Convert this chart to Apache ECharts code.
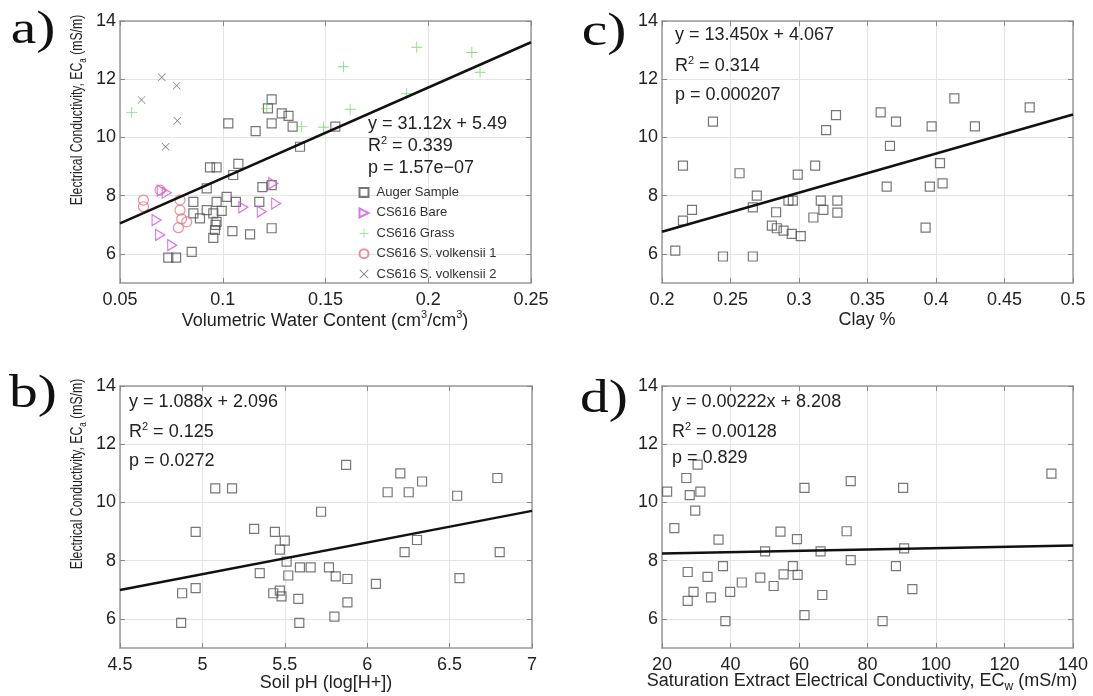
<!DOCTYPE html>
<html>
<head>
<meta charset="utf-8">
<title>EC regressions</title>
<script src="https://cdn.jsdelivr.net/npm/echarts@6/dist/echarts.min.js"></script>
<style>
html, body { margin: 0; padding: 0; background: #fff; }
#main { width: 1093px; height: 696px; }
</style>
</head>
<body>
<div id="main"></div>
<script>
// ---- tick values ----
var yTicks = [6, 8, 10, 12, 14];
var xTicksA = [0.05, 0.1, 0.15, 0.2, 0.25];
var xTicksB = [4.5, 5, 5.5, 6, 6.5, 7];
var xTicksC = [0.2, 0.25, 0.3, 0.35, 0.4, 0.45, 0.5];
var xTicksD = [20, 40, 60, 80, 100, 120, 140];

// ---- a) volumetric water content vs ECa ----
var augerA = [[0.1027,10.48],[0.116,10.22],[0.1238,11.31],[0.122,11.0],[0.1238,10.48],[0.1287,10.83],
	[0.132,10.74],[0.134,10.37],[0.1376,9.68],[0.1548,10.37],[0.0938,8.97],[0.097,8.97],[0.1076,9.09],
	[0.1051,8.71],[0.0922,8.25],[0.1193,8.29],[0.1238,8.36],[0.0857,7.79],[0.097,7.79],[0.1019,7.96],
	[0.1064,7.79],[0.1178,7.79],[0.0857,7.39],[0.0889,7.22],[0.0922,7.5],[0.0954,7.39],[0.0995,7.48],
	[0.097,7.1],[0.0965,7.0],[0.0962,6.82],[0.0954,6.55],[0.1047,6.78],[0.1133,6.67],[0.1238,6.88],
	[0.0849,6.07],[0.0735,5.87],[0.0773,5.87]];
var bareA = [[0.0703,8.17],[0.0727,8.1],[0.0678,7.16],[0.0695,6.65],[0.0754,6.3],[0.110,7.6],
	[0.119,7.45],[0.1246,8.42],[0.126,7.73]];
var grassA = [[0.0557,10.86],[0.1214,11.0],[0.1384,10.37],[0.149,10.35],[0.162,10.97],[0.1587,12.43],
	[0.1895,11.5],[0.1944,13.1],[0.2212,12.92],[0.2252,12.24]];
var volk1A = [[0.0614,7.85],[0.0614,7.62],[0.0695,8.19],[0.0792,7.85],[0.0792,7.5],[0.080,7.2],
	[0.0825,7.1],[0.0784,6.9]];
var volk2A = [[0.0703,12.07],[0.0776,11.78],[0.0605,11.29],[0.0779,10.57],[0.0722,9.68]];
var fitA = [[0.05, 7.05], [0.25, 13.27]];

// ---- b) soil pH vs ECa ----
var augerB = [[4.871,5.86],[4.877,6.88],[4.959,7.06],[4.959,8.99],[5.078,10.48],[5.18,10.48],
	[5.314,9.09],[5.348,7.57],[5.44,8.99],[5.47,8.38],[5.50,8.69],[5.511,7.97],[5.521,7.49],[5.43,6.88],
	[5.47,6.97],[5.48,6.77],[5.588,5.86],[5.582,6.69],[5.592,7.77],[5.657,7.77],[5.72,9.68],[5.768,7.77],
	[5.809,7.46],[5.801,6.08],[5.872,11.29],[5.88,7.37],[5.88,6.57],[6.053,7.2],[6.124,10.35],[6.201,11.0],
	[6.227,8.29],[6.252,10.35],[6.302,8.71],[6.333,10.72],[6.546,10.23],[6.56,7.4],[6.79,10.84],[6.804,8.29]];
var fitB = [[4.5, 6.99], [7, 9.71]];

// ---- c) clay vs ECa ----
var augerC = [[0.2097,6.11],[0.2153,7.14],[0.2153,9.03],[0.2219,7.51],[0.2372,10.54],[0.2445,5.91],
	[0.2566,8.77],[0.2663,5.91],[0.2663,7.6],[0.2692,8.0],[0.2833,7.43],[0.2802,6.97],[0.2838,6.88],
	[0.2887,6.8],[0.2947,6.69],[0.3013,6.61],[0.2923,7.83],[0.2955,7.83],[0.2991,8.72],[0.3105,7.25],
	[0.3118,9.03],[0.3159,7.83],[0.3178,7.51],[0.3198,10.25],[0.327,10.77],[0.328,7.83],[0.328,7.42],
	[0.3596,10.86],[0.3708,10.54],[0.3664,9.71],[0.364,8.31],[0.3924,6.9],[0.3955,8.31],[0.3968,10.38],
	[0.4029,9.12],[0.4048,8.42],[0.4134,11.34],[0.4284,10.38],[0.4684,11.03]];
var fitC = [[0.2, 6.76], [0.5, 10.79]];

// ---- d) saturation extract ECw vs ECa ----
var augerD = [[21.5,10.37],[23.6,9.12],[27.1,10.84],[28.1,10.25],[30.4,11.3],[31.2,10.37],[29.7,9.72],
	[27.5,7.61],[27.5,6.62],[29.2,6.93],[33.3,7.44],[34.3,6.74],[36.5,8.72],[37.8,7.81],[38.5,5.92],
	[39.9,6.93],[43.3,7.25],[48.7,7.42],[50.1,8.32],[52.6,7.13],[54.6,9.0],[55.5,7.53],[58.2,7.81],
	[59.4,8.74],[59.6,7.51],[61.6,10.5],[61.6,6.13],[66.3,8.32],[66.8,6.82],[73.9,9.01],[75.1,10.73],
	[75.1,8.02],[84.4,5.92],[88.3,7.81],[90.4,10.5],[90.7,8.42],[93.1,7.02],[133.7,10.99]];
var fitD = [[20, 8.25], [140, 8.52]];

var statsA = ['y = 31.12x + 5.49', 'R{sup|2} = 0.339', 'p = 1.57e\u221207'];
var statsB = ['y = 1.088x + 2.096', 'R{sup|2} = 0.125', 'p = 0.0272'];
var statsC = ['y = 13.450x + 4.067', 'R{sup|2} = 0.314', 'p = 0.000207'];
var statsD = ['y = 0.00222x + 8.208', 'R{sup|2} = 0.00128', 'p = 0.829'];

var FONT = '"Liberation Sans", Arial, sans-serif';
var myChart = echarts.init(document.getElementById('main'));

var grids = [
	{left: 120, top: 21, width: 411, height: 262},   // a
	{left: 662, top: 21, width: 411, height: 262},   // c
	{left: 120, top: 386, width: 412, height: 262},  // b
	{left: 662, top: 386, width: 411, height: 262}   // d
];

var frameLine = {show: true, onZero: false, lineStyle: {color: '#9a9a9a', width: 1.5}};

function make_x(g, min, max, ticks) {
	return [{
		gridIndex: g, type: 'value', position: 'bottom', min: min, max: max,
		axisLine: frameLine,
		axisTick: {inside: true, length: 5, customValues: ticks, lineStyle: {color: '#888'}},
		axisLabel: {customValues: ticks, margin: 8, fontSize: 18, color: '#222', fontFamily: FONT},
		splitLine: {show: true, lineStyle: {color: '#e4e4e4', width: 1}}
	}, {
		gridIndex: g, type: 'value', position: 'top', min: min, max: max,
		axisLine: frameLine,
		axisTick: {inside: true, length: 5, customValues: ticks, lineStyle: {color: '#888'}},
		axisLabel: {show: false},
		splitLine: {show: false}
	}];
}

function make_y(g) {
	return [{
		gridIndex: g, type: 'value', position: 'left', min: 5, max: 14,
		axisLine: frameLine,
		axisTick: {inside: true, length: 5, customValues: yTicks, lineStyle: {color: '#888'}},
		axisLabel: {customValues: yTicks, margin: 4, fontSize: 18, color: '#222', fontFamily: FONT},
		splitLine: {show: true, lineStyle: {color: '#e4e4e4', width: 1}}
	}, {
		gridIndex: g, type: 'value', position: 'right', min: 5, max: 14,
		axisLine: frameLine,
		axisTick: {inside: true, length: 5, customValues: yTicks, lineStyle: {color: '#888'}},
		axisLabel: {show: false},
		splitLine: {show: false}
	}];
}

var xAxes = [].concat(make_x(0, 0.05, 0.25, xTicksA), make_x(1, 0.2, 0.5, xTicksC),
	make_x(2, 4.5, 7, xTicksB), make_x(3, 20, 140, xTicksD));
var yAxes = [].concat(make_y(0), make_y(1), make_y(2), make_y(3));

// marker shapes (filled bars for + and x, outline for the right-pointing triangle)
var PLUS = 'path://M0,4.6H10V5.4H0Z M4.6,0H5.4V10H4.6Z';
var CROSS = 'path://M0,0.6L0.6,0L5,4.4L9.4,0L10,0.6L5.6,5L10,9.4L9.4,10L5,5.6L0.6,10L0,9.4L4.4,5Z';
var TRI_R = 'path://M0,0L10,5L0,10Z';

function scatter(name, g, data, symbol, size, color, filled) {
	return {
		name: name, type: 'scatter', xAxisIndex: 2 * g, yAxisIndex: 2 * g,
		data: data, symbol: symbol, symbolSize: size,
		itemStyle: filled ? {color: color, borderWidth: 0}
			: {color: 'rgba(0,0,0,0)', borderColor: color, borderWidth: 1.2},
		emphasis: {disabled: true}, z: 3
	};
}

function fit(g, data) {
	return {
		type: 'line', xAxisIndex: 2 * g, yAxisIndex: 2 * g, data: data,
		showSymbol: false, silent: true, z: 4,
		lineStyle: {color: '#111', width: 2.5}
	};
}

var series = [
	scatter('Auger Sample', 0, augerA, 'rect', 9, '#555'),
	scatter('CS616 Bare', 0, bareA, TRI_R, [9, 11], '#d052e6'),
	scatter('CS616 Grass', 0, grassA, PLUS, 11, '#5fd85f', true),
	scatter('CS616 S. volkensii 1', 0, volk1A, 'circle', 10, '#ea6f86'),
	scatter('CS616 S. volkensii 2', 0, volk2A, CROSS, 8, '#555', true),
	fit(0, fitA),
	scatter('Auger Sample', 1, augerC, 'rect', 9, '#555'),
	fit(1, fitC),
	scatter('Auger Sample', 2, augerB, 'rect', 9, '#555'),
	fit(2, fitB),
	scatter('Auger Sample', 3, augerD, 'rect', 9, '#555'),
	fit(3, fitD)
];

function stats_text(lines, x, ys) {
	var out = [];
	for (var i = 0; i < lines.length; i++) {
		out.push({
			type: 'text', x: x, y: ys[i], z: 10,
			style: {
				text: lines[i], fill: '#222', font: '18px ' + FONT, verticalAlign: 'middle',
				rich: {sup: {fontSize: 11, fontFamily: FONT, fill: '#222', verticalAlign: 'top', lineHeight: 22}}
			}
		});
	}
	return out;
}

function letter(txt, x, y) {
	return {
		type: 'text', x: x, y: y, scaleX: 1.25, z: 10,
		style: {text: txt, fill: '#111', font: '46px "Liberation Serif", "Times New Roman", serif', verticalAlign: 'middle', align: 'center'}
	};
}

function ylabel(y) {
	return {
		type: 'text', x: 77, y: y, rotation: Math.PI / 2, scaleX: 0.72, z: 10,
		style: {
			text: '{n|Electrical Conductivity, EC}{s|a}{n| (mS/m)}', align: 'center', verticalAlign: 'middle',
			rich: {
				n: {fontSize: 17, fontFamily: FONT, fill: '#222', lineHeight: 22, verticalAlign: 'middle'},
				s: {fontSize: 11, fontFamily: FONT, fill: '#222', lineHeight: 12, verticalAlign: 'bottom'}
			}
		}
	};
}

function xlabel(txt, x, y) {
	return {
		type: 'text', x: x, y: y, z: 10,
		style: {
			text: txt, align: 'center', verticalAlign: 'middle',
			rich: {
				n: {fontSize: 18, fontFamily: FONT, fill: '#222', lineHeight: 24, verticalAlign: 'middle'},
				sup: {fontSize: 11, fontFamily: FONT, fill: '#222', lineHeight: 24, verticalAlign: 'top'},
				s: {fontSize: 12, fontFamily: FONT, fill: '#222', lineHeight: 13, verticalAlign: 'bottom'}
			}
		}
	};
}

var graphics = [].concat(
	stats_text(statsA, 368, [124, 146, 168]),
	stats_text(statsC, 675, [35, 66, 95]),
	stats_text(statsB, 129, [402, 432, 461]),
	stats_text(statsD, 672, [402, 432, 458]),
	[
		letter('a)', 33, 31), letter('b)', 33, 395), letter('c)', 604, 33), letter('d)', 604, 400),
		ylabel(110), ylabel(474),
		xlabel('{n|Volumetric Water Content (cm}{sup|3}{n|/cm}{sup|3}{n|)}', 325, 321),
		xlabel('{n|Clay %}', 867, 320),
		xlabel('{n|Soil pH (log[H+])}', 326, 683),
		xlabel('{n|Saturation Extract Electrical Conductivity, EC}{s|w}{n| (mS/m)}', 862, 681)
	]
);

var option = {
	animation: false,
	backgroundColor: '#fff',
	grid: grids,
	xAxis: xAxes,
	yAxis: yAxes,
	legend: {
		data: ['Auger Sample', 'CS616 Bare', 'CS616 Grass', 'CS616 S. volkensii 1', 'CS616 S. volkensii 2'],
		orient: 'vertical', left: 353.5, top: 181,
		itemWidth: 9, itemHeight: 9, itemGap: 7.4,
		selectedMode: false,
		textStyle: {fontSize: 13, color: '#333', fontFamily: FONT, padding: [0, 0, 0, 3]}
	},
	graphic: graphics,
	series: series
};

myChart.setOption(option);
</script>
</body>
</html>
